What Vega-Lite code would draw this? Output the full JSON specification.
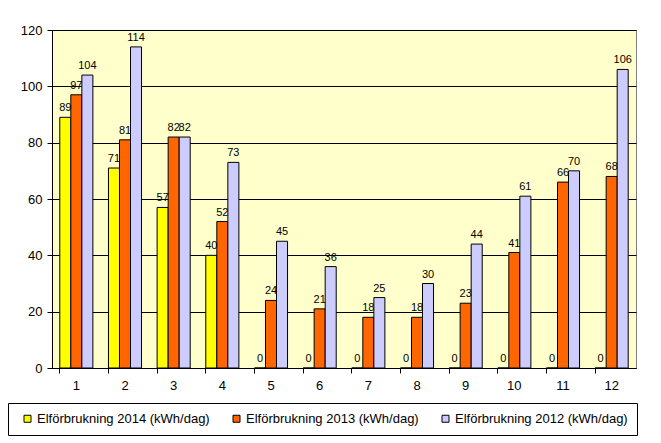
{
  "$schema": "https://vega.github.io/schema/vega-lite/v6.json",
  "width": 584,
  "height": 338,
  "autosize": {"type": "none"},
  "padding": {"left": 52, "top": 30, "right": 25, "bottom": 75},
  "background": "white",
  "config": {
    "font": "Liberation Sans",
    "view": {"fill": "#FFFFCC", "stroke": "#808080", "strokeWidth": 1}
  },
  "data": {
    "values": [
      {"month": 1, "serie": "Elförbrukning 2014 (kWh/dag)", "value": 89},
      {"month": 2, "serie": "Elförbrukning 2014 (kWh/dag)", "value": 71},
      {"month": 3, "serie": "Elförbrukning 2014 (kWh/dag)", "value": 57},
      {"month": 4, "serie": "Elförbrukning 2014 (kWh/dag)", "value": 40},
      {"month": 5, "serie": "Elförbrukning 2014 (kWh/dag)", "value": 0},
      {"month": 6, "serie": "Elförbrukning 2014 (kWh/dag)", "value": 0},
      {"month": 7, "serie": "Elförbrukning 2014 (kWh/dag)", "value": 0},
      {"month": 8, "serie": "Elförbrukning 2014 (kWh/dag)", "value": 0},
      {"month": 9, "serie": "Elförbrukning 2014 (kWh/dag)", "value": 0},
      {"month": 10, "serie": "Elförbrukning 2014 (kWh/dag)", "value": 0},
      {"month": 11, "serie": "Elförbrukning 2014 (kWh/dag)", "value": 0},
      {"month": 12, "serie": "Elförbrukning 2014 (kWh/dag)", "value": 0},
      {"month": 1, "serie": "Elförbrukning 2013 (kWh/dag)", "value": 97},
      {"month": 2, "serie": "Elförbrukning 2013 (kWh/dag)", "value": 81},
      {"month": 3, "serie": "Elförbrukning 2013 (kWh/dag)", "value": 82},
      {"month": 4, "serie": "Elförbrukning 2013 (kWh/dag)", "value": 52},
      {"month": 5, "serie": "Elförbrukning 2013 (kWh/dag)", "value": 24},
      {"month": 6, "serie": "Elförbrukning 2013 (kWh/dag)", "value": 21},
      {"month": 7, "serie": "Elförbrukning 2013 (kWh/dag)", "value": 18},
      {"month": 8, "serie": "Elförbrukning 2013 (kWh/dag)", "value": 18},
      {"month": 9, "serie": "Elförbrukning 2013 (kWh/dag)", "value": 23},
      {"month": 10, "serie": "Elförbrukning 2013 (kWh/dag)", "value": 41},
      {"month": 11, "serie": "Elförbrukning 2013 (kWh/dag)", "value": 66},
      {"month": 12, "serie": "Elförbrukning 2013 (kWh/dag)", "value": 68},
      {"month": 1, "serie": "Elförbrukning 2012 (kWh/dag)", "value": 104},
      {"month": 2, "serie": "Elförbrukning 2012 (kWh/dag)", "value": 114},
      {"month": 3, "serie": "Elförbrukning 2012 (kWh/dag)", "value": 82},
      {"month": 4, "serie": "Elförbrukning 2012 (kWh/dag)", "value": 73},
      {"month": 5, "serie": "Elförbrukning 2012 (kWh/dag)", "value": 45},
      {"month": 6, "serie": "Elförbrukning 2012 (kWh/dag)", "value": 36},
      {"month": 7, "serie": "Elförbrukning 2012 (kWh/dag)", "value": 25},
      {"month": 8, "serie": "Elförbrukning 2012 (kWh/dag)", "value": 30},
      {"month": 9, "serie": "Elförbrukning 2012 (kWh/dag)", "value": 44},
      {"month": 10, "serie": "Elförbrukning 2012 (kWh/dag)", "value": 61},
      {"month": 11, "serie": "Elförbrukning 2012 (kWh/dag)", "value": 70},
      {"month": 12, "serie": "Elförbrukning 2012 (kWh/dag)", "value": 106}
    ]
  },
  "encoding": {
    "x": {
      "field": "month",
      "type": "ordinal",
      "scale": {"paddingInner": 0.32, "paddingOuter": 0.16},
      "axis": {
        "title": null,
        "labelAngle": 0,
        "labelFontSize": 13,
        "labelColor": "black",
        "labelPadding": 6,
        "domainColor": "black",
        "tickColor": "black",
        "tickSize": 5,
        "bandPosition": 0,
        "grid": false
      }
    },
    "xOffset": {
      "field": "serie",
      "type": "nominal",
      "sort": ["Elförbrukning 2014 (kWh/dag)", "Elförbrukning 2013 (kWh/dag)", "Elförbrukning 2012 (kWh/dag)"]
    },
    "y": {
      "field": "value",
      "type": "quantitative",
      "scale": {"domain": [0, 120], "nice": false},
      "axis": {
        "title": null,
        "values": [0, 20, 40, 60, 80, 100, 120],
        "labelFontSize": 13,
        "labelColor": "black",
        "labelPadding": 5,
        "domainColor": "black",
        "tickColor": "black",
        "tickSize": 5,
        "grid": true,
        "gridColor": "black",
        "gridOpacity": 1
      }
    }
  },
  "layer": [
    {
      "mark": {"type": "bar", "stroke": "black", "strokeWidth": 1},
      "encoding": {
        "color": {
          "field": "serie",
          "type": "nominal",
          "sort": ["Elförbrukning 2014 (kWh/dag)", "Elförbrukning 2013 (kWh/dag)", "Elförbrukning 2012 (kWh/dag)"],
          "scale": {
            "domain": ["Elförbrukning 2014 (kWh/dag)", "Elförbrukning 2013 (kWh/dag)", "Elförbrukning 2012 (kWh/dag)"],
            "range": ["#FFFF00", "#FF6600", "#CCCCFF"]
          },
          "legend": {
            "title": null,
            "orient": "none",
            "legendX": -44,
            "legendY": 373,
            "direction": "horizontal",
            "columns": 3,
            "columnPadding": 16,
            "padding": 9,
            "symbolOffset": 4,
            "strokeColor": "black",
            "fillColor": "white",
            "symbolType": "square",
            "symbolSize": 49,
            "symbolStrokeColor": "black",
            "symbolStrokeWidth": 1,
            "symbolOpacity": 1,
            "labelFontSize": 13,
            "labelColor": "black",
            "labelLimit": 300,
            "labelOffset": 3
          }
        }
      }
    },
    {
      "mark": {"type": "text", "baseline": "bottom", "dy": -4, "fontSize": 11, "color": "black"},
      "encoding": {
        "text": {"field": "value", "type": "quantitative"}
      }
    }
  ]
}
